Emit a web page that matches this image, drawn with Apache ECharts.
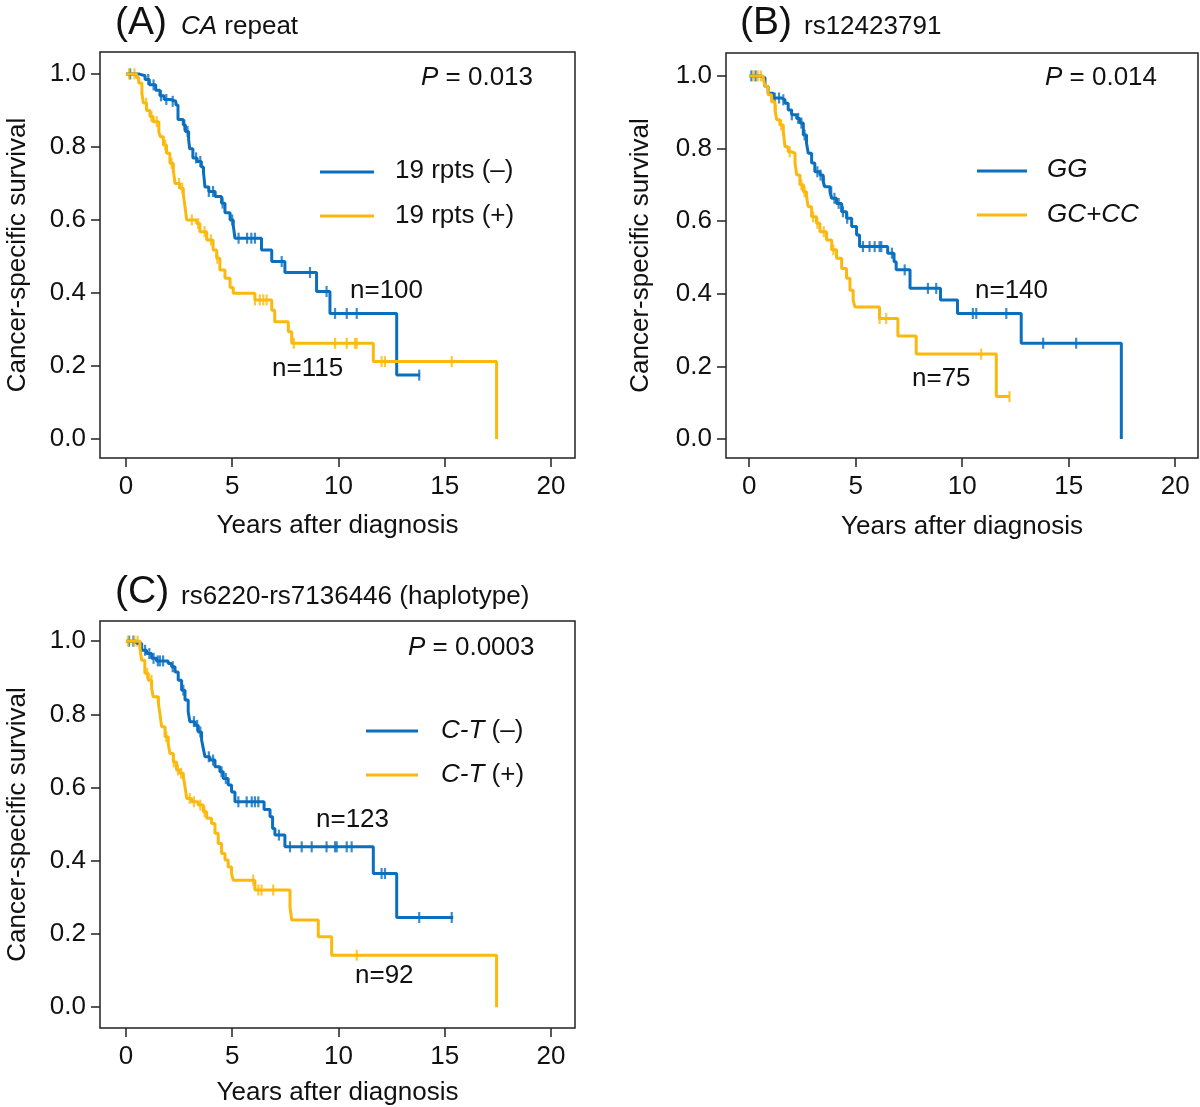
<!DOCTYPE html>
<html>
<head>
<meta charset="utf-8">
<title>Cancer-specific survival</title>
<script src="https://cdn.jsdelivr.net/npm/echarts@6/dist/echarts.min.js"></script>
<style>
  html, body { margin: 0; padding: 0; background: #fff; }
  #main { width: 1200px; height: 1107px; }
</style>
</head>
<body>
<div id="main"></div>
<script>
  // Kaplan-Meier curves: [years, survival after the step]
  var xTicks = [0, 5, 10, 15, 20]
  var yTicks = [0, 0.2, 0.4, 0.6, 0.8, 1.0]

  // (A) CA repeat
  var caNeg = [[0, 1.0], [0.6, 0.995], [0.9, 0.985], [1.1, 0.97], [1.4, 0.955], [1.6, 0.94], [1.8, 0.93], [2.1, 0.925],
    [2.35, 0.915], [2.45, 0.875], [2.7, 0.86], [2.8, 0.842], [2.95, 0.82], [3.0, 0.795], [3.15, 0.77], [3.35, 0.76],
    [3.55, 0.745], [3.65, 0.73], [3.72, 0.69], [3.9, 0.678], [4.2, 0.664], [4.5, 0.646], [4.66, 0.62], [4.9, 0.6],
    [5.05, 0.585], [5.13, 0.55], [6.38, 0.518], [6.86, 0.486], [7.48, 0.456], [8.97, 0.404], [9.6, 0.344],
    [12.74, 0.175], [13.84, 0.175]]
  var caPos = [[0, 1.0], [0.5, 0.99], [0.6, 0.975], [0.75, 0.947], [0.82, 0.92], [0.97, 0.9], [1.13, 0.883], [1.28, 0.869],
    [1.55, 0.84], [1.62, 0.828], [1.76, 0.805], [1.91, 0.783], [2.07, 0.755], [2.23, 0.737], [2.31, 0.7], [2.54, 0.687],
    [2.7, 0.67], [2.78, 0.636], [2.86, 0.6], [3.33, 0.59], [3.48, 0.568], [3.8, 0.545], [4.1, 0.518], [4.27, 0.495],
    [4.42, 0.463], [4.66, 0.44], [4.9, 0.415], [5.05, 0.399], [6.07, 0.381], [6.86, 0.353], [7.0, 0.321], [7.64, 0.294],
    [7.8, 0.262], [11.64, 0.212], [17.44, 0.0]]
  var caNegCens = [0.2, 1.05, 1.3, 1.65, 1.9, 2.2, 2.75, 2.9, 3.3, 3.5, 3.9, 4.1, 4.55, 5.0, 5.3, 5.7, 5.9, 6.07,
    7.33, 8.66, 9.44, 9.84, 10.39, 10.86, 13.8]
  var caPosCens = [0.15, 0.4, 0.95, 1.2, 1.45, 1.85, 2.15, 2.5, 2.65, 3.1, 3.4, 3.7, 4.0, 4.3, 6.07, 6.3, 6.46, 6.62,
    7.9, 9.84, 10.39, 10.78, 10.86, 12.03, 12.19, 15.33]

  // (B) rs12423791
  var gg = [[0, 1.0], [0.5, 0.995], [0.74, 0.971], [0.89, 0.952], [1.13, 0.939], [1.52, 0.934], [1.68, 0.925], [1.83, 0.906],
    [1.99, 0.893], [2.23, 0.883], [2.38, 0.87], [2.54, 0.837], [2.69, 0.815], [2.77, 0.787], [2.93, 0.76], [3.08, 0.736],
    [3.32, 0.727], [3.47, 0.709], [3.55, 0.695], [3.79, 0.681], [3.87, 0.663], [4.1, 0.649], [4.34, 0.626], [4.57, 0.608],
    [4.81, 0.585], [5.04, 0.562], [5.18, 0.53], [6.5, 0.512], [6.8, 0.488], [6.9, 0.466], [7.55, 0.415], [8.98, 0.383],
    [9.78, 0.346], [12.77, 0.264], [17.47, 0.0]]
  var gcCc = [[0, 1.0], [0.66, 0.994], [0.74, 0.971], [0.89, 0.948], [1.05, 0.929], [1.21, 0.906], [1.29, 0.879], [1.44, 0.865],
    [1.6, 0.847], [1.68, 0.805], [1.83, 0.791], [1.99, 0.787], [2.15, 0.76], [2.23, 0.727], [2.38, 0.7], [2.54, 0.681],
    [2.69, 0.667], [2.77, 0.64], [2.93, 0.612], [3.16, 0.594], [3.32, 0.571], [3.63, 0.548], [3.87, 0.521], [4.1, 0.498],
    [4.34, 0.47], [4.57, 0.443], [4.73, 0.41], [4.88, 0.383], [4.96, 0.364], [6.12, 0.332], [6.98, 0.284], [7.84, 0.234],
    [11.6, 0.117], [12.22, 0.117]]
  var ggCens = [0.1, 0.3, 1.2, 1.4, 1.6, 2.0, 2.3, 2.45, 2.6, 3.2, 3.35, 3.5, 3.85, 4.0, 4.2, 4.4, 4.6, 5.34, 5.65, 5.89,
    6.12, 6.2, 6.7, 7.3, 8.39, 8.78, 10.5, 10.66, 12.07, 13.8, 15.35]
  var gcCcCens = [0.2, 0.4, 0.55, 1.25, 1.5, 1.9, 2.45, 2.6, 3.0, 3.2, 3.5, 3.95, 6.12, 6.43, 10.89, 12.22]

  // (C) rs6220-rs7136446 haplotype
  var ctNeg = [[0, 1.0], [0.5, 0.994], [0.74, 0.975], [0.97, 0.966], [1.21, 0.953], [1.44, 0.946], [1.99, 0.939], [2.15, 0.93],
    [2.31, 0.916], [2.46, 0.893], [2.62, 0.866], [2.78, 0.839], [2.93, 0.807], [3.01, 0.78], [3.25, 0.77], [3.4, 0.752],
    [3.56, 0.73], [3.64, 0.707], [3.72, 0.684], [3.95, 0.675], [4.19, 0.657], [4.42, 0.643], [4.58, 0.625], [4.81, 0.607],
    [4.97, 0.588], [5.13, 0.561], [6.5, 0.54], [6.78, 0.52], [6.9, 0.488], [7.01, 0.47], [7.48, 0.438], [11.64, 0.365],
    [12.74, 0.245], [15.4, 0.245]]
  var ctPos = [[0, 1.0], [0.66, 0.98], [0.74, 0.948], [0.89, 0.912], [1.05, 0.893], [1.21, 0.871], [1.28, 0.848], [1.52, 0.834],
    [1.6, 0.802], [1.68, 0.766], [1.84, 0.739], [1.99, 0.72], [2.07, 0.693], [2.23, 0.67], [2.38, 0.648], [2.54, 0.639],
    [2.7, 0.629], [2.78, 0.602], [2.86, 0.57], [3.09, 0.561], [3.4, 0.552], [3.64, 0.534], [3.8, 0.516], [4.03, 0.502],
    [4.19, 0.475], [4.34, 0.447], [4.5, 0.42], [4.66, 0.402], [4.81, 0.383], [4.97, 0.365], [5.05, 0.347], [6.07, 0.32],
    [7.72, 0.274], [7.8, 0.238], [9.05, 0.192], [9.68, 0.142], [17.44, 0.0]]
  var ctNegCens = [0.15, 0.35, 0.9, 1.1, 1.3, 1.5, 1.6, 1.75, 2.2, 2.7, 3.2, 3.35, 3.5, 3.9, 4.1, 4.5, 4.7, 5.29, 5.68,
    5.92, 6.07, 6.23, 7.2, 7.72, 8.27, 8.74, 9.44, 9.84, 9.92, 10.39, 10.62, 12.03, 12.19, 13.8, 15.33]
  var ctPosCens = [0.1, 0.4, 0.55, 1.0, 1.2, 1.55, 1.9, 2.25, 2.45, 2.6, 3.0, 3.2, 3.5, 3.7, 5.99, 6.23, 6.38, 6.93, 10.86]

  var BLUE = '#0b6fbf'
  var YELLOW = '#fbb90d'
  var INK = '#111'
  var FONT = '"Liberation Sans", Arial, Helvetica, sans-serif'

  // survival value of a curve at time t (value after any step at t)
  function survAt (curve, t) {
    var s = curve[0][1]
    for (var i = 0; i < curve.length; i++) {
      if (curve[i][0] <= t) s = curve[i][1]
      else break
    }
    return s
  }

  function kmSeries (idx, curve, cens, color) {
    return [
      {
        type: 'line',
        xAxisIndex: idx,
        yAxisIndex: idx,
        step: 'end',
        showSymbol: false,
        data: curve,
        lineStyle: { color: color, width: 3 },
        itemStyle: { color: color }
      },
      {
        type: 'scatter',
        xAxisIndex: idx,
        yAxisIndex: idx,
        symbol: 'path://M0,0h1v10h-1z',
        symbolSize: [2.2, 11],
        data: cens.map(function (t) { return [t, survAt(curve, t)] }),
        itemStyle: { color: color }
      }
    ]
  }

  var panels = [
    { left: 100, top: 52, width: 475, height: 406, xmin: -1.22, xmax: 21.13, ymin: -0.052, ymax: 1.06, yGap: 69, xGap: 55 },
    { left: 726, top: 53, width: 472, height: 405, xmin: -1.09, xmax: 21.07, ymin: -0.052, ymax: 1.063, yGap: 72, xGap: 56 },
    { left: 100, top: 621, width: 475, height: 407, xmin: -1.22, xmax: 21.13, ymin: -0.057, ymax: 1.055, yGap: 69, xGap: 52 }
  ]

  var tickLine = { color: '#222', width: 1.5 }

  var option = {
    animation: false,
    backgroundColor: '#fff',
    textStyle: { fontFamily: FONT },
    grid: panels.map(function (p) {
      return { left: p.left, top: p.top, width: p.width, height: p.height, show: true, borderColor: '#222', borderWidth: 1.5 }
    }),
    xAxis: panels.map(function (p, i) {
      return {
        type: 'value',
        gridIndex: i,
        min: p.xmin,
        max: p.xmax,
        axisLine: { show: false, onZero: false },
        splitLine: { show: false },
        axisTick: { show: true, inside: false, length: 9, lineStyle: tickLine, customValues: xTicks },
        axisLabel: { customValues: xTicks, fontSize: 26, color: INK, margin: 16, fontFamily: FONT },
        name: 'Years after diagnosis',
        nameLocation: 'middle',
        nameGap: p.xGap,
        nameTextStyle: { fontSize: 26, color: INK, fontFamily: FONT }
      }
    }),
    yAxis: panels.map(function (p, i) {
      return {
        type: 'value',
        gridIndex: i,
        min: p.ymin,
        max: p.ymax,
        axisLine: { show: false, onZero: false },
        splitLine: { show: false },
        axisTick: { show: true, inside: false, length: 9, lineStyle: tickLine, customValues: yTicks },
        axisLabel: {
          customValues: yTicks,
          fontSize: 26,
          color: INK,
          margin: 14,
          fontFamily: FONT,
          formatter: function (v) { return v.toFixed(1) }
        },
        name: 'Cancer-specific survival',
        nameLocation: 'middle',
        nameGap: p.yGap,
        nameTextStyle: { fontSize: 26, color: INK, fontFamily: FONT }
      }
    }),
    series: [].concat(
      kmSeries(0, caNeg, caNegCens, BLUE),
      kmSeries(0, caPos, caPosCens, YELLOW),
      kmSeries(1, gg, ggCens, BLUE),
      kmSeries(1, gcCc, gcCcCens, YELLOW),
      kmSeries(2, ctNeg, ctNegCens, BLUE),
      kmSeries(2, ctPos, ctPosCens, YELLOW)
    ),
    graphic: []
  }

  var rich = {
    i: { fontStyle: 'italic', fontSize: 26, fontFamily: FONT, fill: INK }
  }

  function label (x, y, txt, size) {
    option.graphic.push({
      type: 'text',
      x: x,
      y: y,
      style: {
        text: txt,
        rich: rich,
        fontSize: size || 26,
        fontFamily: FONT,
        fill: INK,
        verticalAlign: 'middle'
      }
    })
  }

  function legendLine (x1, x2, y, color) {
    option.graphic.push({
      type: 'line',
      shape: { x1: x1, y1: y, x2: x2, y2: y },
      style: { stroke: color, lineWidth: 3 }
    })
  }

  // panel titles
  label(115, 23, '(A)', 39)
  label(181, 27, '{i|CA} repeat')
  label(740, 23, '(B)', 39)
  label(804, 27, 'rs12423791')
  label(115, 592, '(C)', 39)
  label(181, 597, 'rs6220-rs7136446 (haplotype)')

  // p values
  label(421, 78, '{i|P} = 0.013')
  label(1045, 78, '{i|P} = 0.014')
  label(408, 648, '{i|P} = 0.0003')

  // legends
  legendLine(320, 374, 172, BLUE)
  legendLine(320, 374, 216, YELLOW)
  label(395, 171, '19 rpts (\u2013)')
  label(395, 216, '19 rpts (+)')

  legendLine(977, 1027, 171, BLUE)
  legendLine(977, 1027, 215, YELLOW)
  label(1047, 170, '{i|GG}')
  label(1047, 215, '{i|GC+CC}')

  legendLine(366, 418, 731, BLUE)
  legendLine(366, 418, 775, YELLOW)
  label(441, 731, '{i|C-T} (\u2013)')
  label(441, 775, '{i|C-T} (+)')

  // group sizes
  label(350, 291, 'n=100')
  label(272, 369, 'n=115')
  label(975, 291, 'n=140')
  label(912, 379, 'n=75')
  label(316, 820, 'n=123')
  label(355, 976, 'n=92')

  var chart = echarts.init(document.getElementById('main'), null, { renderer: 'canvas' })
  chart.setOption(option)
</script>
</body>
</html>
